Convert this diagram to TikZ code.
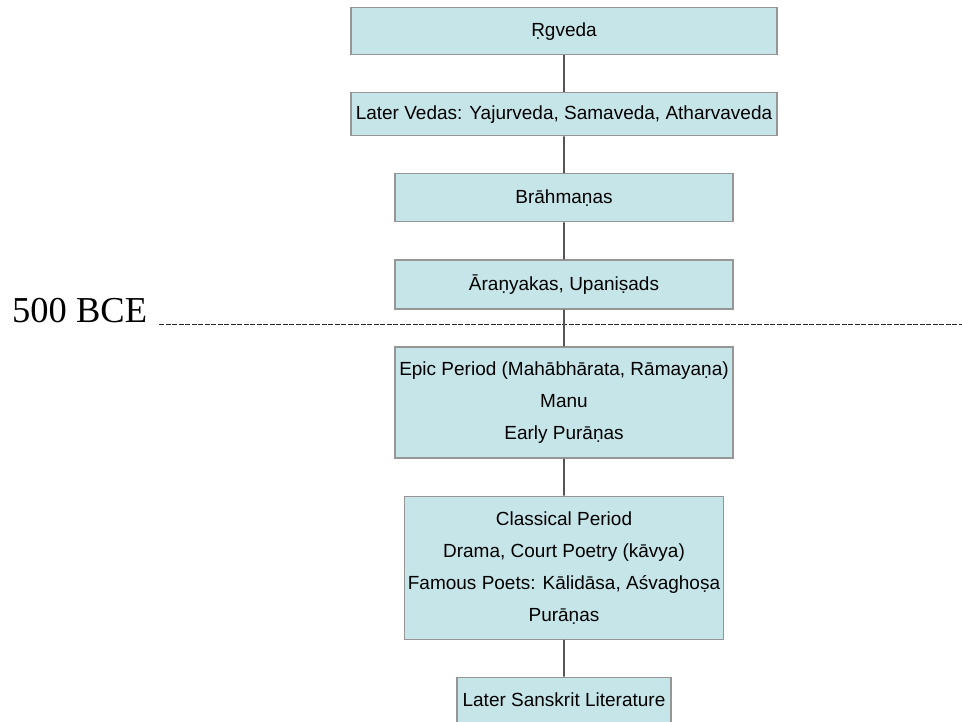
\documentclass[tikz,border=0pt]{standalone}
\usepackage{fontspec}
\setmainfont{Liberation Sans}
\newfontfamily\timesfont{Liberation Serif}
\usetikzlibrary{positioning}

\definecolor{boxfill}{RGB}{198,229,232}
\definecolor{boxline}{RGB}{150,150,150}
\definecolor{connline}{RGB}{85,85,85}

\tikzset{
  period/.style={draw=boxline, fill=boxfill, line width=1.3pt, align=center,
    inner sep=0pt, font=\fontsize{19}{32}\selectfont},
  conn/.style={draw=connline, line width=1.8pt}
}

\begin{document}
\begin{tikzpicture}[x=1pt, y=-1pt,
  level distance=36.8pt,
  growth parent anchor=south,
  every child node/.style={anchor=north},
  edge from parent/.style={conn},
  parent anchor=south, child anchor=north]
\useasboundingbox (0,0) rectangle (962,722);
% the 500 BCE mark
\node[anchor=base west, inner sep=0pt, font=\timesfont\fontsize{36.5}{40}\selectfont] (bce) at (12,323) {500 BCE};
\coordinate (bceend) at (962,324);
\draw[dashed, dash pattern=on 5pt off 1.5pt, line width=0.9pt, draw=black!85] ([xshift=12pt,yshift=-1pt]bce.base east) -- (bceend);
\node[period, anchor=north, minimum width=426pt, minimum height=47pt] (rgveda) at (564,7) {Ṛgveda}
child {
	node[period, minimum width=426pt, minimum height=43pt] (latervedas) {Later Vedas: Yajurveda, Samaveda, Atharvaveda}
	child {
		node[period, minimum width=338pt, minimum height=48pt] (brahmana) {Brāhmaṇas}
		child {
			node[period, minimum width=338pt, minimum height=49pt] (aranyaka) {Āraṇyakas, Upaniṣads}
			child {
				node[period, minimum width=338pt, minimum height=111pt] (epic) {Epic Period (Mahābhārata, Rāmayaṇa)\\ Manu\\ Early Purāṇas}
				child {
					node[period, minimum width=319pt, minimum height=143pt] (classical) {Classical Period\\ Drama, Court Poetry (kāvya)\\ Famous Poets: Kālidāsa, Aśvaghoṣa\\ Purāṇas}
					child {
						node[period, minimum width=214pt, minimum height=45pt] (latersanskrit) {Later Sanskrit Literature}
					}
				}
			}
		}
	}
};
\end{tikzpicture}
\end{document}
